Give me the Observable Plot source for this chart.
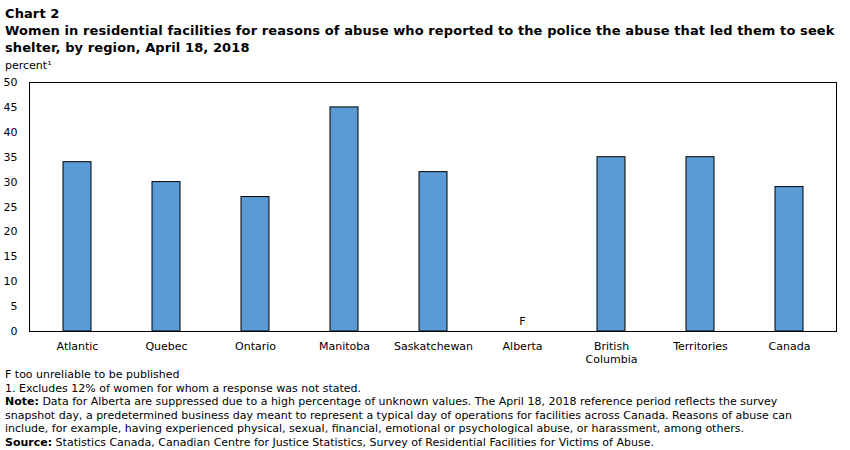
<!DOCTYPE html>
<html>
<head>
<meta charset="utf-8">
<script src="https://cdn.jsdelivr.net/npm/d3@7"></script>
<script src="https://cdn.jsdelivr.net/npm/@observablehq/plot@0.6"></script>
<style>
  html, body { margin: 0; padding: 0; background: #fff; }
  body { width: 850px; font-family: "DejaVu Sans", Verdana, sans-serif; color: #000; }
  .title { padding: 5px 0 0 5px; font-weight: bold; font-size: 13px; line-height: 17px; letter-spacing: 0.1px; }
  .unit { padding-left: 5px; font-size: 11px; line-height: 14px; height: 14px; margin-top: 3px; margin-bottom: -2px; }
  .foot { padding-left: 5px; font-size: 11px; line-height: 13.6px; margin-top: 1px; }
  svg { display: block; }
</style>
</head>
<body>
<div class="title">Chart 2<br>Women in residential facilities for reasons of abuse who reported to the police the abuse that led them to seek<br>shelter, by region, April 18, 2018</div>
<div class="unit">percent¹</div>
<div id="chart"></div>
<div class="foot">F too unreliable to be published<br>1. Excludes 12% of women for whom a response was not stated.<br><b>Note:</b> Data for Alberta are suppressed due to a high percentage of unknown values. The April 18, 2018 reference period reflects the survey<br>snapshot day, a predetermined business day meant to represent a typical day of operations for facilities across Canada. Reasons of abuse can<br>include, for example, having experienced physical, sexual, financial, emotional or psychological abuse, or harassment, among others.<br><b>Source:</b> Statistics Canada, Canadian Centre for Justice Statistics, Survey of Residential Facilities for Victims of Abuse.</div>
<script>
const regions = ["Atlantic", "Quebec", "Ontario", "Manitoba", "Saskatchewan", "Alberta", "British\nColumbia", "Territories", "Canada"];
const values = [34, 30, 27, 45, 32, null, 35, 35, 29];
const flags = ["", "", "", "", "", "F", "", "", ""];
const yTicks = [0, 5, 10, 15, 20, 25, 30, 35, 40, 45, 50];

const data = regions.map((r, i) => ({region: r, value: values[i], flag: flags[i]}));

const chart = Plot.plot({
  width: 850,
  height: 296,
  marginTop: 11,
  marginBottom: 36,
  marginLeft: 29,
  marginRight: 14,
  style: {fontFamily: "DejaVu Sans, Verdana, sans-serif", fontSize: "11px", color: "#000", background: "#fff"},
  x: {domain: regions, paddingInner: 0.69, paddingOuter: 0.345, label: null},
  y: {domain: [0, 50], label: null},
  marks: [
    Plot.barY(data.filter(d => d.value != null), {x: "region", y: "value", fill: "#5b9bd5", stroke: "#000", strokeWidth: 1}),
    Plot.text(data.filter(d => d.flag), {x: "region", y: 0, text: "flag", dy: -10, fill: "#000", fontSize: 11}),
    Plot.frame({stroke: "#000", strokeWidth: 1}),
    Plot.axisY({ticks: yTicks, tickSize: 0, tickPadding: 12, label: null, fill: "#000"}),
    Plot.axisX({tickSize: 0, tickPadding: 9, label: null, lineHeight: 1.2, fill: "#000"})
  ]
});
document.getElementById("chart").appendChild(chart);
</script>
</body>
</html>
